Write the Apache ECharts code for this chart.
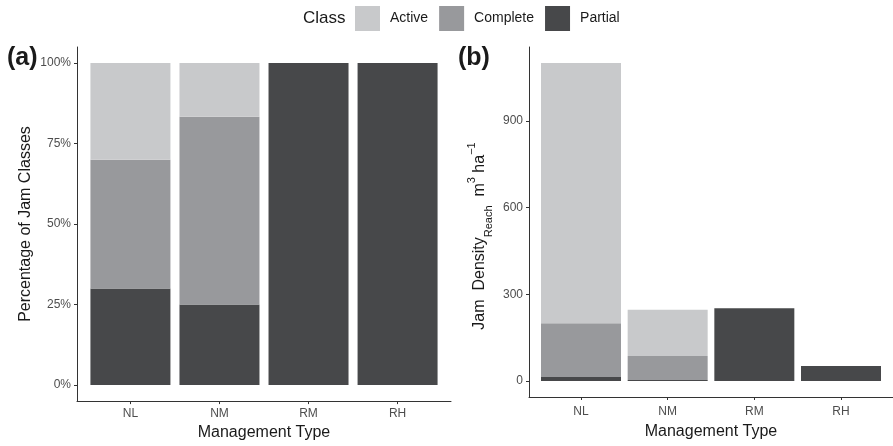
<!DOCTYPE html>
<html>
<head>
<meta charset="utf-8">
<script src="https://cdn.jsdelivr.net/npm/echarts@6/dist/echarts.min.js"></script>
<style>
html,body{margin:0;padding:0;background:#fff;}
#chart{width:893px;height:446px;}
</style>
</head>
<body>
<div id="chart"></div>
<script>
var categories = ['NL', 'NM', 'RM', 'RH'];
var classNames = ['Active', 'Complete', 'Partial'];
// Panel (a): percentage of jam classes
var pctActive = [30, 16.7, 0, 0];
var pctComplete = [40, 58.3, 0, 0];
var pctPartial = [30, 25, 100, 100];
var pctTicks = [0, 25, 50, 75, 100];
// Panel (b): jam density (m3 ha-1)
var denActive = [900, 160, 0, 0];
var denComplete = [186, 83, 0, 0];
var denPartial = [14, 4, 252, 52];
var denTicks = [0, 300, 600, 900];

var colors = {Active: '#c8c9cb', Complete: '#98999c', Partial: '#47484a'};
var FONT = '"Liberation Sans", Arial, Helvetica, sans-serif';
var catPos = categories.map(function (c, i) { return i + 1; });

// value first, category position second (so the stack sums the values)
function toYX(arr) { return arr.map(function (v, i) { return [v, i + 1]; }); }

function xAxisCfg(gridIndex, labelMargin, nameGap) {
  return {
    type: 'value', gridIndex: gridIndex, min: 0.4, max: 4.6,
    name: 'Management Type', nameLocation: 'middle', nameGap: nameGap,
    nameTextStyle: {fontFamily: FONT, fontSize: 16, color: '#1a1a1a'},
    axisLine: {show: true, onZero: false, lineStyle: {color: '#333', width: 1}},
    axisTick: {show: true, length: 3, customValues: catPos, lineStyle: {color: '#333'}},
    axisLabel: {customValues: catPos, margin: labelMargin, fontFamily: FONT, fontSize: 12, color: '#4d4d4d',
      formatter: function (v) { return categories[Math.round(v) - 1] || ''; }},
    splitLine: {show: false}
  };
}

var series = [];
[['Partial', pctPartial, denPartial], ['Complete', pctComplete, denComplete], ['Active', pctActive, denActive]].forEach(function (s) {
  series.push({name: s[0], type: 'bar', stack: 'a', xAxisIndex: 0, yAxisIndex: 0, barWidth: 80,
    encode: {x: 1, y: 0},
    itemStyle: {color: colors[s[0]]}, data: toYX(s[1]), silent: true});
  series.push({name: s[0], type: 'bar', stack: 'b', xAxisIndex: 1, yAxisIndex: 1, barWidth: 80,
    encode: {x: 1, y: 0},
    itemStyle: {color: colors[s[0]]}, data: toYX(s[2]), silent: true});
});

var chart = echarts.init(document.getElementById('chart'), null, {renderer: 'canvas'});
chart.setOption({
  animation: false,
  backgroundColor: '#ffffff',
  textStyle: {fontFamily: FONT},
  legend: {
    data: classNames, left: 355, top: 6, padding: 0, itemWidth: 25, itemHeight: 25, itemGap: 11,
    icon: 'rect', selectedMode: false,
    textStyle: {fontFamily: FONT, fontSize: 14, color: '#1a1a1a', padding: [0, 0, 0, 5]}
  },
  graphic: [
    {type: 'text', left: 303, top: 10, style: {text: 'Class', font: '17px ' + FONT, fill: '#1a1a1a'}},
    {type: 'text', left: 7, top: 46, style: {text: '(a)', font: 'bold 25px ' + FONT, fill: '#1a1a1a'}},
    {type: 'text', left: 458, top: 46, style: {text: '(b)', font: 'bold 25px ' + FONT, fill: '#1a1a1a'}}
  ],
  grid: [
    {left: 77, right: 442, top: 47, bottom: 43},
    {left: 529, right: -8, top: 47, bottom: 49}
  ],
  xAxis: [xAxisCfg(0, 7, 23), xAxisCfg(1, 9, 27)],
  yAxis: [
    {type: 'value', gridIndex: 0, min: -5, max: 105,
      name: 'Percentage of Jam Classes', nameLocation: 'middle', nameGap: 43,
      nameTextStyle: {fontFamily: FONT, fontSize: 16, color: '#1a1a1a'},
      axisLine: {show: true, onZero: false, lineStyle: {color: '#333'}},
      axisTick: {show: true, length: 3, customValues: pctTicks, lineStyle: {color: '#333'}},
      axisLabel: {customValues: pctTicks, margin: 6, fontFamily: FONT, fontSize: 12, color: '#4d4d4d',
        formatter: function (v) { return v + '%'; }},
      splitLine: {show: false}},
    {type: 'value', gridIndex: 1, min: -55, max: 1155,
      name: '{n|Jam  Density}{s|Reach}{n|  m}{p|3}{n| ha}{p|\u22121}',
      nameLocation: 'middle', nameGap: 35,
      nameTextStyle: {fontFamily: FONT, fontSize: 16, color: '#1a1a1a', padding: [0, 28, 0, 0],
        rich: {
          n: {fontFamily: FONT, fontSize: 16, lineHeight: 28, color: '#1a1a1a'},
          s: {fontFamily: FONT, fontSize: 11, lineHeight: 11, verticalAlign: 'bottom', color: '#1a1a1a'},
          p: {fontFamily: FONT, fontSize: 11, lineHeight: 11, verticalAlign: 'top', color: '#1a1a1a'}
        }},
      axisLine: {show: true, onZero: false, lineStyle: {color: '#333'}},
      axisTick: {show: true, length: 3, customValues: denTicks, lineStyle: {color: '#333'}},
      axisLabel: {customValues: denTicks, margin: 6, fontFamily: FONT, fontSize: 12, color: '#4d4d4d'},
      splitLine: {show: false}}
  ],
  series: series
});
</script>
</body>
</html>
